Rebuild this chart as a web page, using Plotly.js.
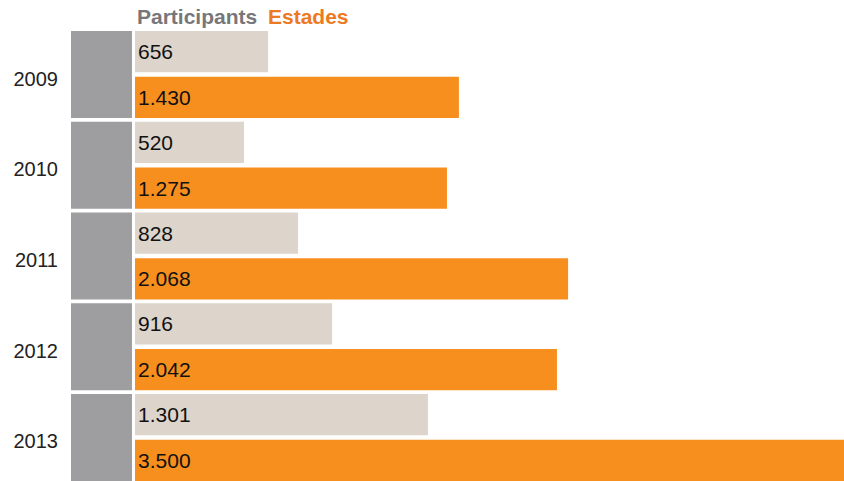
<!DOCTYPE html>
<html><head><meta charset="utf-8">
<script src="https://cdn.plot.ly/plotly-3.0.1.min.js"></script>
<style>html,body{margin:0;padding:0;background:#fff}</style>
</head><body><div id="chart" style="width:844px;height:481px"></div>
<script>
const years = ['2009', '2010', '2011', '2012', '2013'];
const seriesNames = ['Participants', 'Estades'];
// bar lengths (data units)
const participants = [657, 538, 805, 973, 1446];
const estades = [1599, 1540, 2138, 2083, 3500];
// printed labels
const participantsLabels = ['656', '520', '828', '916', '1.301'];
const estadesLabels = ['1.430', '1.275', '2.068', '2.042', '3.500'];
const blockValue = [1, 1, 1, 1, 1];

const FONT = 'Liberation Sans, Arial, Helvetica, sans-serif';

const traces = [
  {
    type: 'bar', orientation: 'h', x: blockValue, y: years,
    xaxis: 'x2', yaxis: 'y', width: 0.96, offset: -0.48,
    marker: {color: '#9e9d9f'}, hoverinfo: 'skip', showlegend: false
  },
  {
    type: 'bar', orientation: 'h', name: seriesNames[0],
    x: participants, y: years, xaxis: 'x', yaxis: 'y',
    width: 0.455, offset: -0.48,
    marker: {color: '#ddd4cb'},
    text: participantsLabels, textposition: 'inside', insidetextanchor: 'start',
    textfont: {size: 21, color: '#111', family: FONT},
    hoverinfo: 'skip', showlegend: false
  },
  {
    type: 'bar', orientation: 'h', name: seriesNames[1],
    x: estades, y: years, xaxis: 'x', yaxis: 'y',
    width: 0.455, offset: 0.025,
    marker: {color: '#f78f1f'},
    text: estadesLabels, textposition: 'inside', insidetextanchor: 'start',
    textfont: {size: 21, color: '#111', family: FONT},
    hoverinfo: 'skip', showlegend: false
  }
];

const layout = {
  width: 844, height: 481,
  margin: {l: 71, r: 0, t: 31, b: 0, pad: 0},
  paper_bgcolor: '#fff', plot_bgcolor: '#fff',
  font: {family: FONT},
  barmode: 'overlay',
  hovermode: false,
  showlegend: false,
  xaxis: {domain: [0.0828, 1], range: [0, 3500], visible: false, fixedrange: true},
  xaxis2: {domain: [0, 0.0789], range: [0, 1], visible: false, fixedrange: true},
  yaxis: {
    type: 'category', range: [4.48, -0.48], anchor: 'x2',
    showgrid: false, zeroline: false, showline: false, ticks: '',
    ticklabelstandoff: 12, ticklabelshift: -4,
    tickfont: {size: 20, color: '#222', family: FONT}, fixedrange: true
  },
  annotations: [
    {text: '<b>' + seriesNames[0] + '</b>', xref: 'paper', yref: 'paper',
     x: 0.0828, y: 1, xanchor: 'left', yanchor: 'bottom', yshift: 1,
     showarrow: false, font: {size: 21, color: '#77777a', family: FONT}},
    {text: '<b>' + seriesNames[1] + '</b>', xref: 'paper', yref: 'paper',
     x: 0.2523, y: 1, xanchor: 'left', yanchor: 'bottom', yshift: 1,
     showarrow: false, font: {size: 21, color: '#ec7a23', family: FONT}}
  ]
};

Plotly.newPlot('chart', traces, layout, {displayModeBar: false, staticPlot: true});
</script>
</body></html>
